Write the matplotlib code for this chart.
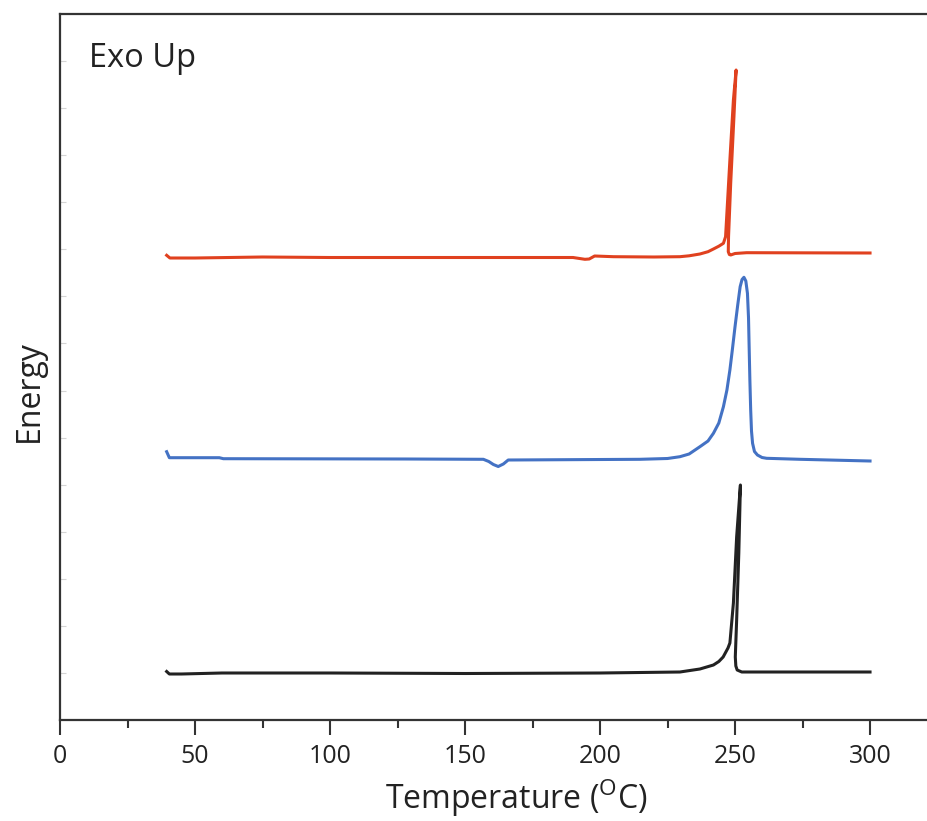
import numpy as np
import matplotlib.pyplot as plt

# DSC traces (energy in arbitrary units, exo up)
red_T = [39.5, 40.7, 50, 75, 100, 150, 190, 194.4, 196, 198, 205, 220, 229.6, 233, 237, 240, 242,
         244, 245.7, 246.5, 248.1, 249.4, 250.4, 249.6, 248.4, 247.6, 247.5, 247.9, 248.4, 250, 254.3, 300]
red_E = [464.7, 462, 462, 463, 462.5, 462.5, 462.5, 460.7, 461, 464, 463.3, 463, 463.3, 464.2, 466, 468.3, 471,
         473.8, 476.7, 483.3, 560, 620, 650, 603.3, 537, 483.3, 468.3, 465.5, 465, 466.5, 467.3, 467]

blue_T = [39.5, 40.5, 59, 60.5, 128, 156.8, 158.8, 160.5, 162.3, 164.2, 166, 214.8, 225, 229.6, 233, 237, 240,
          242, 244, 245.7, 247, 248.1, 249, 250, 251, 251.9, 252.6, 253.3, 254, 254.6, 255, 255.2,
          255.5, 255.8, 256.1, 256.5, 257.2, 258.3, 260, 261.7, 274.1, 300]
blue_E = [268.3, 262.3, 262.3, 261.3, 261, 260.7, 258.5, 255.5, 253.5, 256, 260, 260.7, 261.5, 263.3, 266, 273.3, 279,
          286.7, 297, 313.3, 330, 350, 370, 393.3, 415, 433.3, 440.5, 442.7, 439, 426.7, 402, 376.7,
          340, 310, 289, 276.7, 268.5, 265, 262.5, 261.7, 260.7, 259]

black_T = [39.5, 40.5, 45, 60, 100, 150, 200, 229.6, 237, 242, 244, 245.6, 247.4, 248.1, 249.4,
           250.6, 252.0, 251.4, 250.6, 250.1, 250.3, 250.8, 252.5, 261.7, 300]
black_E = [48.5, 46, 46, 47, 47, 46.5, 47, 48, 51, 55, 58.5, 63, 72, 77, 117,
           183, 235, 167, 100, 63, 54, 50, 48, 48, 48]

plt.rcParams['font.family'] = ['Open Sans', 'DejaVu Sans']

fig = plt.figure(figsize=(9.27, 8.21), dpi=100)
ax = fig.add_axes([60 / 927, 101 / 821, 1 - 60 / 927, 706 / 821])

ax.plot(red_T, red_E, color='#e0411f', lw=2.2)
ax.plot(blue_T, blue_E, color='#4472c4', lw=2.2)
ax.plot(black_T, black_E, color='#222222', lw=2.2)

ax.set_xlim(0, 321.1)
ax.set_ylim(0, 706)
ax.set_xticks(np.arange(0, 301, 50))
ax.set_xticks(np.arange(25, 321, 50), minor=True)
ax.set_yticks(np.linspace(0, 706, 16)[1:-1])
ax.set_yticklabels([])

ax.spines['right'].set_visible(False)
for s in ['left', 'bottom', 'top']:
    ax.spines[s].set_linewidth(1.6)
    ax.spines[s].set_color('#333333')

ax.tick_params(axis='x', which='major', direction='out', length=11, width=1.5,
               color='#333333', labelsize=18, pad=6, labelcolor='#222222')
ax.tick_params(axis='x', which='minor', direction='out', length=6, width=1.5, color='#333333')
ax.tick_params(axis='y', which='major', direction='in', length=4, width=0.8, color='#d4d4d4')

ax.set_xlabel('Temperature ($^\\mathregular{O}$C)', fontsize=23, color='#222222')
ax.set_ylabel('Energy', fontsize=23, color='#222222')
ax.xaxis.set_label_coords(0.526, -0.081)
ax.yaxis.set_label_coords(-0.016, 0.466)

ax.text(0.033, 0.96, 'Exo Up', transform=ax.transAxes, fontsize=23.5,
        color='#222222', va='top', ha='left')

fig.savefig('out.png', dpi=100)
